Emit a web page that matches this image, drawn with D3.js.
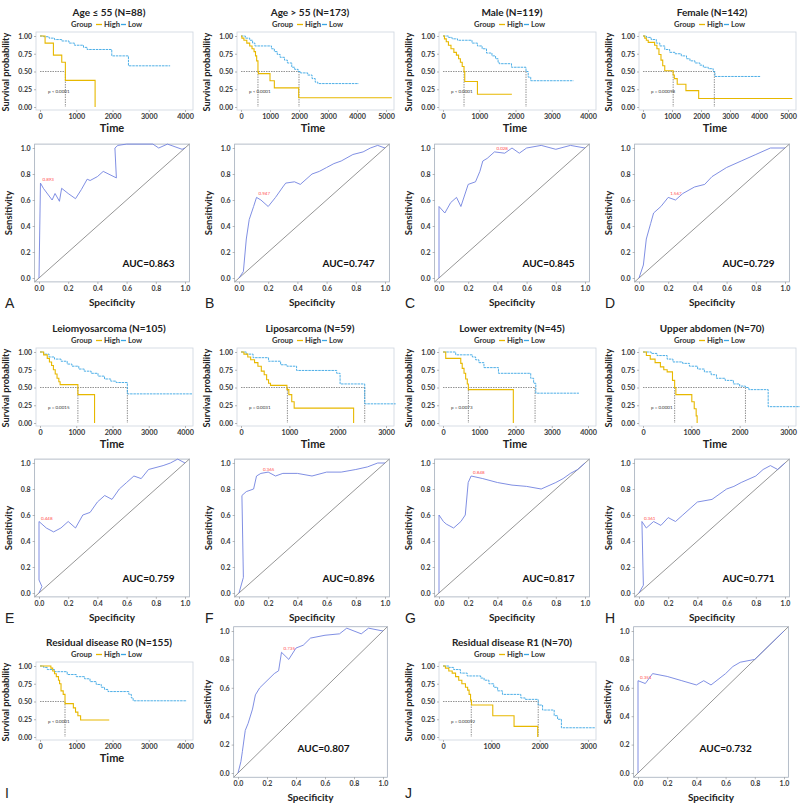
<!DOCTYPE html>
<html>
<head>
<meta charset="utf-8">
<script src="https://cdn.jsdelivr.net/npm/d3@7"></script>
<style>
body { margin: 0; background: #fff; }
svg { display: block; }
text { font-family: Lato, "Open Sans", sans-serif; }
</style>
</head>
<body>
<svg id="fig" width="800" height="804"></svg>
<script>
// panel titles and letters
var titles = ["Age \u2264 55 (N=88)", "Age > 55 (N=173)", "Male (N=119)", "Female (N=142)",
	"Leiomyosarcoma (N=105)", "Liposarcoma (N=59)", "Lower extremity (N=45)", "Upper abdomen (N=70)",
	"Residual disease R0 (N=155)", "Residual disease R1 (N=70)"];
var letters = ["A", "B", "C", "D", "E", "F", "G", "H", "I", "J"];
var timeMax = [4000, 5000, 4000, 5000, 4000, 3000, 4000, 3000, 4000, 3000];

// KM step points [time, survival], High group
var kmHigh = [
	[[0,1],[140,0.9],[370,0.73],[600,0.63],[700,0.375],[1520,0]],
	[[0,1],[30,0.97],[100,0.94],[200,0.9],[300,0.86],[380,0.82],[450,0.78],[500,0.72],[540,0.65],[585,0.5],[600,0.47],[1000,0.37],[1150,0.27],[1990,0.13]],
	[[0,1],[40,0.96],[90,0.92],[150,0.87],[220,0.82],[300,0.77],[370,0.73],[430,0.68],[480,0.63],[530,0.57],[580,0.5],[600,0.36],[950,0.18]],
	[[0,1],[60,0.97],[115,0.94],[180,0.91],[400,0.87],[480,0.82],[550,0.74],[620,0.66],[680,0.58],[750,0.51],[1040,0.45],[1080,0.4],[1180,0.32],[1480,0.23],[1920,0.12]],
	[[0,1],[100,0.96],[200,0.91],[260,0.86],[320,0.81],[370,0.75],[420,0.69],[470,0.63],[520,0.58],[555,0.54],[1045,0.4],[1505,0]],
	[[0,1],[60,0.97],[140,0.93],[200,0.89],[280,0.85],[350,0.8],[420,0.73],[480,0.68],[530,0.61],[570,0.56],[610,0.53],[950,0.47],[990,0.4],[1050,0.3],[1100,0.21],[2330,0]],
	[[0,1],[75,0.91],[490,0.84],[530,0.77],[580,0.7],[625,0.62],[670,0.55],[700,0.47],[1940,0]],
	[[0,1],[70,0.95],[150,0.9],[250,0.85],[360,0.79],[430,0.75],[500,0.72],[610,0.6],[655,0.5],[680,0.4],[1010,0.3],[1060,0.2],[1100,0.1],[1120,0]],
	[[0,1],[300,0.97],[350,0.93],[400,0.89],[450,0.85],[510,0.8],[540,0.75],[580,0.65],[640,0.6],[690,0.47],[920,0.41],[980,0.35],[1045,0.3],[1120,0.24]],
	[[0,1],[50,0.97],[120,0.93],[190,0.9],[260,0.85],[325,0.8],[390,0.75],[465,0.7],[510,0.66],[540,0.6],[570,0.52],[590,0.45],[1030,0.3],[1470,0.15],[1960,0]]
];
var kmHighEnd = [1520, 5200, 1900, 5150, 1505, 2330, 1940, 1120, 1910, 1960];

// KM step points, Low group
var kmLow = [
	[[0,1],[100,0.99],[250,0.97],[400,0.95],[600,0.93],[800,0.9],[950,0.87],[1200,0.84],[1300,0.81],[1980,0.72],[2440,0.58]],
	[[0,1],[150,0.97],[300,0.94],[400,0.9],[480,0.86],[1050,0.82],[1150,0.78],[1250,0.74],[1350,0.7],[1500,0.66],[1600,0.62],[1750,0.56],[1850,0.53],[1970,0.5],[2050,0.48],[2300,0.45],[2450,0.4],[2560,0.35],[2650,0.33]],
	[[0,1],[150,0.98],[250,0.96],[400,0.94],[800,0.9],[950,0.86],[1080,0.82],[1200,0.76],[1350,0.72],[1450,0.68],[1520,0.63],[1550,0.61],[1890,0.56],[2290,0.5],[2350,0.42],[2420,0.37]],
	[[0,1],[120,0.98],[280,0.95],[460,0.9],[580,0.86],[750,0.81],[920,0.77],[1100,0.75],[1320,0.72],[1500,0.68],[1620,0.65],[1790,0.62],[1960,0.59],[2080,0.56],[2250,0.54],[2420,0.5],[2480,0.43]],
	[[0,1],[100,0.97],[250,0.93],[400,0.9],[580,0.87],[750,0.83],[880,0.8],[1070,0.76],[1220,0.73],[1410,0.7],[1600,0.66],[1780,0.62],[1950,0.59],[2100,0.57],[2410,0.41]],
	[[0,1],[110,0.97],[250,0.92],[570,0.87],[820,0.82],[950,0.8],[1150,0.74],[1980,0.7],[2050,0.55],[2560,0.27]],
	[[0,1],[350,0.96],[810,0.93],[900,0.89],[990,0.85],[1130,0.78],[1530,0.7],[2420,0.63],[2500,0.56],[2560,0.42]],
	[[0,1],[170,0.98],[290,0.95],[500,0.9],[620,0.86],[820,0.84],[960,0.8],[1130,0.76],[1270,0.72],[1410,0.68],[1520,0.63],[1700,0.6],[1870,0.55],[2000,0.52],[2120,0.5],[2190,0.47],[2590,0.23]],
	[[0,1],[100,0.98],[200,0.95],[400,0.92],[750,0.88],[1000,0.85],[1230,0.82],[1380,0.78],[1550,0.74],[1690,0.7],[1780,0.67],[1875,0.64],[2450,0.6],[2520,0.55],[2570,0.51]],
	[[0,1],[120,0.98],[220,0.95],[360,0.9],[500,0.86],[780,0.83],[850,0.8],[950,0.75],[1050,0.7],[1130,0.65],[1230,0.6],[1610,0.55],[1700,0.53],[1970,0.45],[2060,0.38],[2300,0.3],[2370,0.25],[2450,0.13]]
];
var kmLowEnd = [3590, 4060, 3600, 4050, 4200, 3200, 3750, 3300, 4050, 3140];

// median survival times (dotted guides)
var medians = [[700], [585, 2000], [580, 2290], [1040, 2460], [1045, 2410], [960, 2560], [700, 2540], [655, 2120], [690], [585, 1970]];
var pValues = ["p < 0.0001", "p < 0.0001", "p < 0.0001", "p = 0.00098", "p = 0.0015", "p = 0.0031", "p = 0.0073", "p = 0.0001", "p < 0.0001", "p = 0.00092"];

// ROC curves [1 - specificity, sensitivity]
var rocCurves = [
	[[0,0],[0.01,0.73],[0.03,0.69],[0.09,0.6],[0.11,0.65],[0.14,0.59],[0.155,0.69],[0.2,0.65],[0.25,0.61],[0.29,0.68],[0.33,0.76],[0.35,0.75],[0.4,0.78],[0.44,0.82],[0.53,0.77],[0.52,1.0],[0.54,1.02],[0.6,1.03],[0.78,1.03],[0.82,1.0],[0.88,1.03],[0.98,0.99],[1,1]],
	[[0,0],[0.03,0.05],[0.05,0.3],[0.07,0.45],[0.1,0.55],[0.12,0.62],[0.15,0.6],[0.2,0.55],[0.25,0.62],[0.3,0.7],[0.32,0.73],[0.38,0.74],[0.42,0.72],[0.5,0.8],[0.55,0.82],[0.6,0.85],[0.65,0.88],[0.7,0.9],[0.78,0.95],[0.85,0.97],[0.9,1.0],[0.95,1.02],[1,1]],
	[[0,0],[0,0.55],[0.04,0.5],[0.08,0.58],[0.12,0.62],[0.15,0.55],[0.2,0.72],[0.25,0.74],[0.28,0.82],[0.3,0.9],[0.33,0.92],[0.38,0.97],[0.45,0.96],[0.5,1.0],[0.55,0.96],[0.6,1.0],[0.7,1.02],[0.8,0.99],[0.9,1.02],[1,1]],
	[[0,0],[0.03,0.1],[0.05,0.3],[0.08,0.42],[0.1,0.5],[0.15,0.55],[0.2,0.62],[0.25,0.6],[0.3,0.65],[0.38,0.7],[0.45,0.72],[0.5,0.78],[0.6,0.85],[0.7,0.9],[0.8,0.95],[0.9,1.0],[1,1]],
	[[0,0],[0.02,0.05],[0,0.1],[0,0.55],[0.05,0.5],[0.1,0.47],[0.15,0.5],[0.2,0.55],[0.25,0.5],[0.3,0.6],[0.35,0.62],[0.4,0.7],[0.45,0.75],[0.5,0.72],[0.55,0.8],[0.6,0.85],[0.65,0.9],[0.7,0.88],[0.75,0.95],[0.85,0.98],[0.9,1.0],[0.95,1.03],[1,1]],
	[[0,0],[0.03,0.12],[0.02,0.75],[0.05,0.78],[0.1,0.8],[0.12,0.9],[0.15,0.92],[0.2,0.93],[0.25,0.9],[0.3,0.92],[0.4,0.92],[0.5,0.9],[0.6,0.93],[0.7,0.93],[0.8,0.95],[0.88,0.97],[0.95,1.0],[1,1]],
	[[0,0],[0,0.6],[0.03,0.55],[0.05,0.53],[0.1,0.5],[0.15,0.55],[0.18,0.6],[0.2,0.85],[0.22,0.9],[0.3,0.88],[0.4,0.85],[0.5,0.83],[0.6,0.82],[0.7,0.8],[0.8,0.85],[0.85,0.88],[0.9,0.92],[0.95,0.95],[1,1]],
	[[0,0],[0.03,0.06],[0.02,0.55],[0.05,0.5],[0.1,0.55],[0.15,0.52],[0.2,0.58],[0.25,0.55],[0.3,0.6],[0.35,0.65],[0.4,0.7],[0.5,0.72],[0.6,0.8],[0.65,0.82],[0.7,0.85],[0.8,0.9],[0.85,0.95],[0.9,0.98],[0.95,0.95],[1,1]],
	[[0,0],[0.02,0.08],[0.03,0.15],[0.05,0.3],[0.07,0.35],[0.1,0.45],[0.12,0.55],[0.15,0.6],[0.2,0.65],[0.25,0.7],[0.28,0.72],[0.3,0.85],[0.35,0.8],[0.4,0.88],[0.45,0.9],[0.5,0.95],[0.6,0.97],[0.7,0.98],[0.75,1.02],[0.8,1.0],[0.85,0.98],[0.9,1.02],[1,1]],
	[[0,0],[0,0.65],[0.05,0.63],[0.1,0.7],[0.2,0.68],[0.3,0.65],[0.4,0.62],[0.45,0.65],[0.5,0.62],[0.6,0.7],[0.65,0.75],[0.7,0.78],[0.8,0.8],[0.85,0.85],[0.9,0.9],[0.95,0.95],[1,1]]
];
var aucValues = [0.863, 0.747, 0.845, 0.729, 0.759, 0.896, 0.817, 0.771, 0.807, 0.732];
// best cutoff marker [x, y] and its label
var cutPoints = [[0.01,0.73],[0.12,0.62],[0.38,0.97],[0.2,0.62],[0,0.55],[0.15,0.92],[0.22,0.9],[0.02,0.55],[0.3,0.85],[0,0.65]];
var cutLabels = ["0.893", "0.947", "0.028", "1.567", "0.448", "0.365", "0.848", "0.361", "0.735", "0.351"];

var svg = d3.select('#fig');
var kmLeft = [36, 237, 439, 639];
var orange = '#e7b800';
var blue = '#3aa6e4';

function styleAxis(g, size) {
	g.select('.domain').remove();
	g.selectAll('line').attr('stroke', '#888').attr('stroke-width', 0.6);
	g.selectAll('text')
		.style('font-size', size + 'px')
		.style('font-weight', 'bold')
		.attr('fill', '#3a3a3a');
}

function drawKM(i, left, top, showTime) {
	var x = d3.scaleLinear().domain([0, timeMax[i]]).range([left + 4, left + 149]);
	var y = d3.scaleLinear().domain([0, 1]).range([top + 107, top + 36]);
	var g = svg.append('g');

	g.append('text')
		.attr('x', left + 73)
		.attr('y', top + 16)
		.attr('text-anchor', 'middle')
		.style('font-size', '10px')
		.style('font-weight', 'bold')
		.attr('fill', '#222')
		.text(titles[i]);

	// legend
	var lg = g.append('g').attr('transform', 'translate(' + (left + 35) + ',' + (top + 27) + ')');
	lg.append('text').attr('x', 0).attr('y', 0).style('font-size', '7.6px').style('font-weight', 'bold').attr('fill', '#333').text('Group');
	lg.append('line').attr('x1', 25).attr('x2', 31).attr('y1', -2.5).attr('y2', -2.5).attr('stroke', orange).attr('stroke-width', 1.3);
	lg.append('text').attr('x', 33).attr('y', 0).style('font-size', '7.6px').style('font-weight', 'bold').attr('fill', '#333').text('High');
	lg.append('line').attr('x1', 50).attr('x2', 55).attr('y1', -2.5).attr('y2', -2.5).attr('stroke', blue).attr('stroke-width', 1.3);
	lg.append('text').attr('x', 57).attr('y', 0).style('font-size', '7.6px').style('font-weight', 'bold').attr('fill', '#333').text('Low');

	g.append('rect')
		.attr('x', left)
		.attr('y', top + 32)
		.attr('width', 157)
		.attr('height', 78)
		.attr('fill', 'none')
		.attr('stroke', '#cdd5de')
		.attr('stroke-width', 0.8);

	var ya = g.append('g')
		.attr('transform', 'translate(' + left + ',0)')
		.call(d3.axisLeft(y).tickValues([0, 0.25, 0.5, 0.75, 1]).tickFormat(d3.format('.2f')).tickSize(2).tickPadding(2));
	styleAxis(ya, 7);
	var xa = g.append('g')
		.attr('transform', 'translate(0,' + (top + 110) + ')')
		.call(d3.axisBottom(x).tickValues(d3.range(0, timeMax[i] + 1, 1000)).tickFormat(d3.format('d')).tickSize(2).tickPadding(2));
	styleAxis(xa, 7.2);

	g.append('text')
		.attr('transform', 'translate(' + (left - 27) + ',' + (top + 72) + ') rotate(-90)')
		.attr('text-anchor', 'middle')
		.style('font-size', '9.2px')
		.style('font-weight', 'bold')
		.attr('fill', '#222')
		.text('Survival probability');
	if (showTime) {
		g.append('text')
			.attr('x', left + 76)
			.attr('y', top + 132)
			.attr('text-anchor', 'middle')
			.style('font-size', '11px')
			.style('font-weight', 'bold')
			.attr('fill', '#222')
			.text('Time');
	}

	// median guides
	var med = medians[i];
	g.append('line')
		.attr('x1', x(0)).attr('x2', x(d3.max(med)))
		.attr('y1', y(0.5)).attr('y2', y(0.5))
		.attr('stroke', '#666').attr('stroke-width', 0.7).attr('stroke-dasharray', '1.5,1');
	med.forEach(function(m) {
		g.append('line')
			.attr('x1', x(m)).attr('x2', x(m))
			.attr('y1', y(0.5)).attr('y2', y(0))
			.attr('stroke', '#666').attr('stroke-width', 0.7).attr('stroke-dasharray', '1.5,1');
	});

	var line = d3.line()
		.x(function(d) { return x(d[0]); })
		.y(function(d) { return y(d[1]); })
		.curve(d3.curveStepAfter);
	var low = kmLow[i].concat([[kmLowEnd[i], kmLow[i][kmLow[i].length - 1][1]]]);
	var high = kmHigh[i].concat([[kmHighEnd[i], kmHigh[i][kmHigh[i].length - 1][1]]]);
	g.append('path')
		.attr('d', line(low))
		.attr('fill', 'none')
		.attr('stroke', blue)
		.attr('stroke-width', 0.9)
		.attr('stroke-dasharray', '2.5,0.8');
	g.append('path')
		.attr('d', line(high))
		.attr('fill', 'none')
		.attr('stroke', orange)
		.attr('stroke-width', 1.1);

	g.append('text')
		.attr('x', x(0) + 8)
		.attr('y', y(0.2))
		.style('font-size', '4.5px')
		.attr('fill', '#333')
		.text(pValues[i]);
}

function drawROC(i, x0, x1, y1, y0, aucPos) {
	var x = d3.scaleLinear().domain([0, 1]).range([x0, x1]);
	var y = d3.scaleLinear().domain([0, 1]).range([y0, y1]);
	var g = svg.append('g');

	g.append('rect')
		.attr('x', x(-0.03))
		.attr('y', y(1.03))
		.attr('width', x(1.03) - x(-0.03))
		.attr('height', y(-0.03) - y(1.03))
		.attr('fill', 'none')
		.attr('stroke', '#a3adbb')
		.attr('stroke-width', 0.8);
	g.append('line')
		.attr('x1', x(-0.03)).attr('y1', y(-0.03))
		.attr('x2', x(1.03)).attr('y2', y(1.03))
		.attr('stroke', '#8a8a8a')
		.attr('stroke-width', 0.9);

	var ya = g.append('g')
		.attr('transform', 'translate(' + x(-0.03) + ',0)')
		.call(d3.axisLeft(y).tickValues(d3.range(0, 1.01, 0.2)).tickFormat(d3.format('.1f')).tickSize(2).tickPadding(2));
	styleAxis(ya, 7);
	var xa = g.append('g')
		.attr('transform', 'translate(0,' + y(-0.03) + ')')
		.call(d3.axisBottom(x).tickValues(d3.range(0, 1.01, 0.2)).tickFormat(d3.format('.1f')).tickSize(2).tickPadding(2));
	styleAxis(xa, 7);

	g.append('text')
		.attr('transform', 'translate(' + (x(-0.03) - 23) + ',' + ((y(0) + y(1)) / 2) + ') rotate(-90)')
		.attr('text-anchor', 'middle')
		.style('font-size', '9.5px')
		.style('font-weight', 'bold')
		.attr('fill', '#222')
		.text('Sensitivity');
	g.append('text')
		.attr('x', (x(0) + x(1)) / 2)
		.attr('y', y(-0.03) + 24)
		.attr('text-anchor', 'middle')
		.style('font-size', '10px')
		.style('font-weight', 'bold')
		.attr('fill', '#222')
		.text('Specificity');

	g.append('path')
		.attr('d', d3.line().x(function(d) { return x(d[0]); }).y(function(d) { return y(d[1]); })(rocCurves[i]))
		.attr('fill', 'none')
		.attr('stroke', '#7282e0')
		.attr('stroke-width', 0.9);

	var cp = cutPoints[i];
	g.append('text')
		.attr('x', x(cp[0]) + 2)
		.attr('y', y(cp[1]) - 2)
		.style('font-size', '4.5px')
		.attr('fill', '#ff4b4b')
		.text(cutLabels[i]);

	g.append('text')
		.attr('x', x(aucPos[0]))
		.attr('y', y(aucPos[1]))
		.attr('text-anchor', 'middle')
		.style('font-size', '10px')
		.style('font-weight', 'bold')
		.attr('fill', '#111')
		.text('AUC=' + aucValues[i].toFixed(3));
}

// rows A-D and E-H
for (var i = 0; i < 8; ++i) {
	var c = i % 4;
	var r = Math.floor(i / 4);
	drawKM(i, kmLeft[c], r * 316, true);
	drawROC(i, 39 + 200 * c, 185 + 200 * c, 148 + 315 * r, 278 + 315 * r, [0.75, 0.085]);
}
// row I, J
drawKM(8, kmLeft[0], 630, true);
drawROC(8, 238, 383, 631, 773, [0.59, 0.15]);
drawKM(9, kmLeft[2], 630, false);
drawROC(9, 638, 784, 631, 773, [0.6, 0.15]);

// panel letters
var letterPos = [[5, 308], [205, 308], [405, 308], [605, 308], [5, 623], [205, 623], [405, 623], [605, 623], [5, 798], [405, 798]];
letters.forEach(function(l, k) {
	svg.append('text')
		.attr('x', letterPos[k][0])
		.attr('y', letterPos[k][1])
		.style('font-family', '"Liberation Sans", Arial, sans-serif')
		.style('font-size', '14px')
		.attr('fill', '#222')
		.text(l);
});
</script>
</body>
</html>
